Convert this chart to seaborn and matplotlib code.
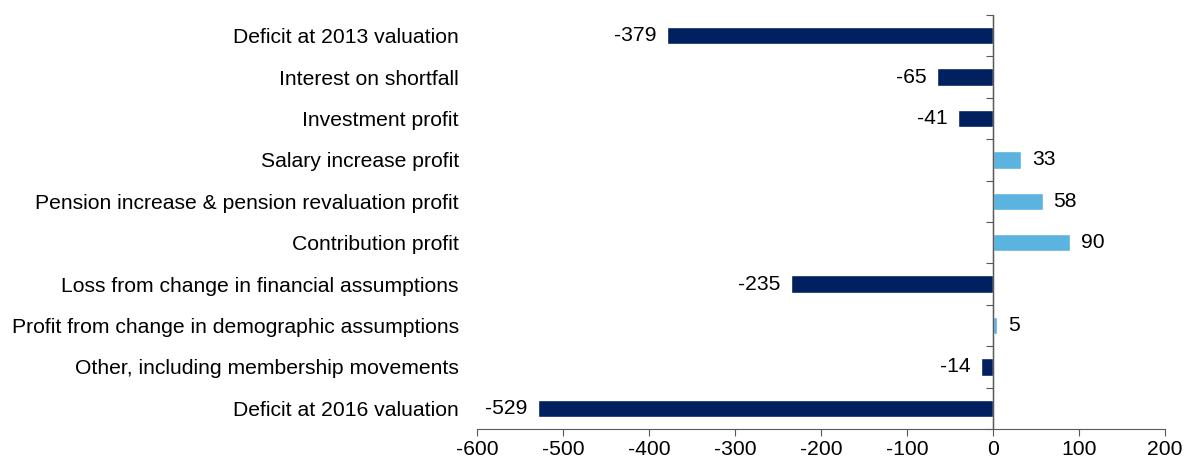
import matplotlib
matplotlib.use('Agg')
import matplotlib.pyplot as plt
import seaborn as sns
import numpy as np
import pandas as pd

categories = [
    'Deficit at 2013 valuation',
    'Interest on shortfall',
    'Investment profit',
    'Salary increase profit',
    'Pension increase & pension revaluation profit',
    'Contribution profit',
    'Loss from change in financial assumptions',
    'Profit from change in demographic assumptions',
    'Other, including membership movements',
    'Deficit at 2016 valuation',
]
values = [-379, -65, -41, 33, 58, 90, -235, 5, -14, -529]
x_ticks = [-600, -500, -400, -300, -200, -100, 0, 100, 200]

NAVY = '#002060'
LIGHT = '#5BB3E0'
AXIS_COLOR = '#595959'
FS = 15.2

sns.set_style('white')
plt.rcParams['font.family'] = ['Liberation Sans', 'DejaVu Sans']
plt.rcParams['text.color'] = 'black'
plt.rcParams['xtick.labelcolor'] = 'black'
plt.rcParams['ytick.labelcolor'] = 'black'

df = pd.DataFrame({'category': categories, 'value': values})
df['sign'] = np.where(df['value'] < 0, 'neg', 'pos')

fig = plt.figure(figsize=(11.86, 4.61), dpi=100)
ax = fig.add_axes([477 / 1186, 1 - 429 / 461, (1165 - 477) / 1186, (429 - 15) / 461])

sns.barplot(data=df, x='value', y='category', hue='sign', palette={'neg': NAVY, 'pos': LIGHT},
            dodge=False, legend=False, width=0.42, ax=ax, saturation=1, orient='h')

for container in ax.containers:
    ax.bar_label(container, labels=[f'{v:.0f}' for v in container.datavalues],
                 padding=7.5, fontsize=FS, color='black')

ax.set_xlim(-600, 200)
ax.set_ylim(9.5, -0.5)
ax.set_xticks(x_ticks)
ax.set_xticklabels([str(t) for t in x_ticks], fontsize=FS)
ax.set_xlabel('')
ax.set_ylabel('')
ax.tick_params(axis='y', length=0, pad=13, labelsize=FS)
ax.tick_params(axis='x', direction='out', length=5, color=AXIS_COLOR, bottom=True, pad=3)

for side in ['top', 'right', 'left']:
    ax.spines[side].set_visible(False)
ax.spines['bottom'].set_color(AXIS_COLOR)

# zero line with tick marks between categories
ax.axvline(0, color=AXIS_COLOR, lw=1, zorder=5)
zero_frac = (0 - (-600)) / 800
sec = ax.secondary_yaxis(zero_frac)
sec.yaxis.set_ticks_position('left')
sec.set_yticks(np.arange(-0.5, 10, 1))
sec.set_yticklabels([])
sec.tick_params(axis='y', direction='out', length=5, color=AXIS_COLOR)

plt.savefig('out.png', dpi=100)
